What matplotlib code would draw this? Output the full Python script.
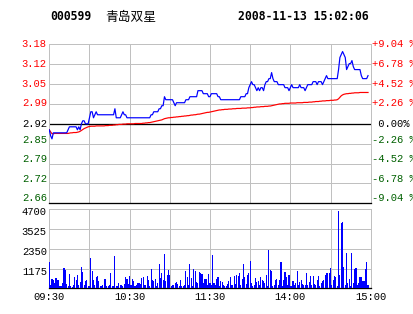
import matplotlib
matplotlib.use("Agg")
import matplotlib.pyplot as plt
import matplotlib.transforms as mtransforms

plt.rcParams['font.family'] = ['Liberation Mono', 'DejaVu Sans Mono']

# =========================
# DATOS
# =========================
codigo = "000599"
nombre = "青岛双星"
fecha = "2008-11-13 15:02:06"
cierre_previo = 2.92

pct_niveles = [9.04, 6.78, 4.52, 2.26, 0.0, -2.26, -4.52, -6.78, -9.04]
precio_labels = ["3.18", "3.12", "3.05", "2.99", "2.92", "2.85", "2.79", "2.72", "2.66"]
pct_labels = ["+9.04 %", "+6.78 %", "+4.52 %", "+2.26 %", " 0.00%",
              "-2.26 %", "-4.52 %", "-6.78 %", "-9.04 %"]

hora_pos = [0, 60, 120, 180, 240]
hora_labels = ["09:30", "10:30", "11:30", "14:00", "15:00"]

vol_ticks = [4700, 3525, 2350, 1175]

# precio por minuto (09:30 -> 14:59)
precio = [
    2.90, 2.88, 2.87, 2.89, 2.89, 2.89, 2.89, 2.89, 2.89, 2.89,
    2.89, 2.89, 2.89, 2.89, 2.90, 2.91, 2.91, 2.91, 2.91, 2.91,
    2.91, 2.90, 2.91, 2.90, 2.92, 2.93, 2.93, 2.92, 2.92, 2.92,
    2.94, 2.96, 2.96, 2.94, 2.95, 2.96, 2.95, 2.95, 2.95, 2.95,
    2.95, 2.95, 2.95, 2.95, 2.95, 2.95, 2.95, 2.95, 2.95, 2.97,
    2.94, 2.94, 2.94, 2.94, 2.95, 2.96, 2.95, 2.95, 2.94, 2.94,
    2.94, 2.94, 2.94, 2.94, 2.94, 2.94, 2.94, 2.94, 2.94, 2.94,
    2.94, 2.94, 2.94, 2.94, 2.94, 2.94, 2.95, 2.95, 2.96, 2.96,
    2.96, 2.96, 2.97, 2.97, 2.98, 2.98, 3.01, 3.00, 3.00, 3.00,
    3.00, 3.00, 3.00, 2.99, 2.98, 2.99, 2.99, 2.99, 2.99, 2.99,
    2.99, 2.99, 3.00, 3.00, 3.00, 3.01, 3.01, 3.01, 3.01, 3.01,
    3.01, 3.03, 3.03, 3.03, 3.03, 3.02, 3.02, 3.02, 3.02, 3.01,
    3.01,
    3.02, 3.02, 3.02, 3.02, 3.02, 3.01, 3.01, 3.00, 3.00, 3.00,
    3.00, 3.00, 3.00, 3.00, 3.00, 3.00, 3.00, 3.00, 3.00, 3.00,
    3.00, 3.00, 3.01, 3.01, 3.01, 3.01, 3.02, 3.02, 3.04, 3.05,
    3.06, 3.05, 3.05, 3.04, 3.03, 3.04, 3.03, 3.04, 3.04, 3.03,
    3.05, 3.06, 3.06, 3.07, 3.07, 3.09, 3.07, 3.06, 3.06, 3.06,
    3.05, 3.05, 3.05, 3.05, 3.05, 3.04, 3.04, 3.04, 3.03, 3.04,
    3.05, 3.04, 3.04, 3.04, 3.04, 3.04, 3.05, 3.04, 3.04, 3.04,
    3.03, 3.04, 3.05, 3.05, 3.05, 3.05, 3.06, 3.06, 3.06, 3.05,
    3.06, 3.06, 3.06, 3.05, 3.06, 3.07, 3.08, 3.07, 3.07, 3.07,
    3.07, 3.07, 3.07, 3.07, 3.07, 3.10, 3.14, 3.15, 3.16, 3.15,
    3.14, 3.10, 3.11, 3.12, 3.12, 3.13, 3.11, 3.10, 3.10, 3.10,
    3.10, 3.10, 3.08, 3.07, 3.07, 3.07, 3.07, 3.08,
]

# precio promedio
promedio = [
    2.900, 2.893, 2.887, 2.887, 2.888, 2.888, 2.888, 2.888, 2.888, 2.888,
    2.888, 2.888, 2.888, 2.888, 2.888, 2.889, 2.890, 2.890, 2.891, 2.891,
    2.891, 2.892, 2.893, 2.895, 2.898, 2.901, 2.904, 2.906, 2.908, 2.910,
    2.911, 2.912, 2.912, 2.912, 2.912, 2.913, 2.913, 2.913, 2.913, 2.913,
    2.913, 2.913, 2.914, 2.914, 2.914, 2.915, 2.915, 2.915, 2.916, 2.916,
    2.917, 2.917, 2.918, 2.918, 2.918, 2.919, 2.919, 2.919, 2.920, 2.920,
    2.920, 2.920, 2.920, 2.920, 2.921, 2.921, 2.921, 2.921, 2.921, 2.921,
    2.922, 2.922, 2.923, 2.923, 2.924, 2.924, 2.925, 2.926, 2.927, 2.928,
    2.929, 2.930, 2.931, 2.932, 2.933, 2.935, 2.937, 2.938, 2.939, 2.940,
    2.940, 2.941, 2.941, 2.942, 2.942, 2.943, 2.943, 2.944, 2.944, 2.945,
    2.945, 2.946, 2.946, 2.947, 2.947, 2.948, 2.949, 2.949, 2.950, 2.950,
    2.951, 2.952, 2.952, 2.953, 2.954, 2.955, 2.956, 2.957, 2.958, 2.958,
    2.959,
    2.960, 2.961, 2.962, 2.963, 2.964, 2.965, 2.966, 2.966, 2.967, 2.967,
    2.968, 2.968, 2.968, 2.969, 2.969, 2.969, 2.970, 2.970, 2.970, 2.971,
    2.971, 2.971, 2.971, 2.972, 2.972, 2.972, 2.972, 2.973, 2.973, 2.973,
    2.974, 2.974, 2.975, 2.975, 2.976, 2.976, 2.976, 2.977, 2.977, 2.977,
    2.978, 2.978, 2.978, 2.979, 2.979, 2.980, 2.981, 2.982, 2.983, 2.984,
    2.985, 2.986, 2.986, 2.987, 2.987, 2.988, 2.988, 2.988, 2.988, 2.989,
    2.989, 2.989, 2.989, 2.989, 2.990, 2.990, 2.990, 2.990, 2.990, 2.991,
    2.991, 2.991, 2.991, 2.992, 2.992, 2.992, 2.993, 2.993, 2.994, 2.994,
    2.994, 2.995, 2.995, 2.996, 2.996, 2.996, 2.997, 2.997, 2.997, 2.998,
    2.998, 2.998, 2.999, 2.999, 3.000, 3.003, 3.008, 3.013, 3.016, 3.018,
    3.019, 3.020, 3.020, 3.021, 3.021, 3.022, 3.022, 3.023, 3.023, 3.023,
    3.023, 3.024, 3.024, 3.024, 3.024, 3.024, 3.024, 3.024,
]

# volumen por minuto
volumen = [
    1590, 200, 550, 500, 300, 600, 500, 500, 160, 140,
    300, 1190, 1090, 260, 140, 850, 140, 100, 200, 650,
    500, 770, 200, 380, 1290, 970, 180, 450, 500, 160,
    140, 1800, 1000, 500, 200, 650, 730, 450, 160, 140,
    200, 530, 570, 140, 160, 200, 890, 140, 140, 1920,
    140, 140, 300, 180, 200, 160, 240, 650, 570, 260,
    730, 200, 530, 450, 140, 180, 340, 300, 260, 610,
    650, 180, 200, 730, 500, 140, 1130, 500, 450, 530,
    160, 300, 1450, 600, 890, 500, 2040, 420, 770, 1090,
    790, 140, 180, 200, 300, 400, 260, 140, 500, 140,
    160, 180, 1050, 650, 180, 1450, 600, 140, 1130, 1000,
    380, 340, 970, 890, 850, 340, 530, 530, 180, 850,
    300,
    200, 1980, 340, 180, 570, 690, 140, 450, 380, 180,
    140, 160, 260, 450, 650, 200, 220, 730, 260, 810,
    730, 930, 200, 530, 1450, 650, 260, 770, 890, 1620,
    340, 140, 180, 610, 380, 450, 180, 690, 500, 420,
    300, 770, 140, 2280, 1090, 1050, 140, 180, 500, 530,
    180, 500, 1590, 140, 500, 970, 650, 180, 810, 160,
    140, 440, 220, 300, 1050, 200, 400, 500, 260, 180,
    200, 930, 180, 380, 730, 180, 730, 260, 180, 500,
    730, 160, 300, 420, 500, 810, 890, 930, 930, 1210,
    180, 500, 730, 650, 140, 4600, 810, 3900, 3940, 1290,
    180, 2120, 340, 570, 140, 2120, 340, 1170, 1210, 180,
    300, 650, 650, 450, 450, 1170, 1590, 180,
]

# =========================
# FIGURA
# =========================
W, H = 414, 314
GRIS = "#c0c0c0"
ROJO = "#ff0000"
VERDE = "#006000"
AZUL = "#0000ff"
FS = 7.6

fig = plt.figure(figsize=(W / 100, H / 100), dpi=100)
fig.patch.set_facecolor("white")


def rect(x0, y0, x1, y1):
    return [x0 / W, 1 - y1 / H, (x1 - x0) / W, (y1 - y0) / H]


ax = fig.add_axes(rect(49.3, 44.3, 370.7, 203.3))
axv = fig.add_axes(rect(49.3, 209.3, 370.7, 288.3))

px = 72 / 100  # 1 pixel en puntos

niveles = [cierre_previo * (1 + p / 100) for p in pct_niveles]
minutos = list(range(len(precio)))

for a in (ax, axv):
    a.set_xlim(0, 240)
    a.set_xticks(range(0, 241, 30))
    a.grid(True, axis="both", color=GRIS, linewidth=px)
    a.set_axisbelow(True)
    for lado in ("left", "right", "top"):
        a.spines[lado].set_color(GRIS)
        a.spines[lado].set_linewidth(px)
    a.spines["bottom"].set_color("black")
    a.spines["bottom"].set_linewidth(px * 1.3)
    a.tick_params(length=0)

# ---- precio
ax.set_ylim(niveles[-1], niveles[0])
ax.set_yticks(niveles)
ax.set_yticklabels([])
ax.set_xticklabels([])

ax.axhline(cierre_previo, color="black", linewidth=px * 1.3, zorder=2)
ax.plot(minutos, promedio, color=ROJO, linewidth=px * 1.2, zorder=3)
ax.plot(minutos, precio, color=AZUL, linewidth=px * 1.2, zorder=4)

# las etiquetas inferiores van algo subidas, como en el original
subida_px = [0, 0, 0.5, 1, 0, 3.5, 4.5, 4.5, 5.5]
trans = mtransforms.blended_transform_factory(ax.transAxes, ax.transData)
for y, txt_p, txt_pct, p, sub in zip(niveles, precio_labels, pct_labels,
                                     pct_niveles, subida_px):
    color = ROJO if p > 0 else ("black" if p == 0 else VERDE)
    t_izq = mtransforms.offset_copy(trans, fig=fig, x=-2.5, y=sub, units="dots")
    t_der = mtransforms.offset_copy(trans, fig=fig, x=1, y=sub, units="dots")
    ax.text(0, y, txt_p, transform=t_izq, ha="right", va="center",
            fontsize=FS, color=color, clip_on=False)
    ax.text(1, y, txt_pct, transform=t_der, ha="left", va="center",
            fontsize=FS, color=color, clip_on=False)

# ---- volumen
axv.set_ylim(0, vol_ticks[0])
axv.set_yticks(vol_ticks)
axv.set_yticklabels([])
transv = mtransforms.blended_transform_factory(axv.transAxes, axv.transData)
t_vol = mtransforms.offset_copy(transv, fig=fig, x=-2.5, y=-3, units="dots")
for v in vol_ticks:
    axv.text(0, v, str(v), transform=t_vol, ha="right", va="center",
             fontsize=FS, color="black", clip_on=False)

axv.set_xticklabels(["" if m not in hora_pos else hora_labels[hora_pos.index(m)]
                     for m in range(0, 241, 30)])
axv.tick_params(axis="x", pad=3, labelsize=FS)
axv.bar(minutos, volumen, width=0.8, color=AZUL, linewidth=0,
        antialiased=False, zorder=3)

# ---- titulo
yt = 1 - 17 / H
fig.text(50 / W, yt, codigo, ha="left", va="center", fontsize=8.3,
         fontweight="bold", family=["DejaVu Sans Mono"])
fig.text(105 / W, yt, nombre, ha="left", va="center", fontsize=9.2,
         family=["Noto Sans CJK SC", "DejaVu Sans"])
fig.text(238 / W, yt, fecha, ha="left", va="center", fontsize=8.3,
         fontweight="bold", family=["DejaVu Sans Mono"])

fig.savefig("out.png", dpi=100, facecolor="white")
